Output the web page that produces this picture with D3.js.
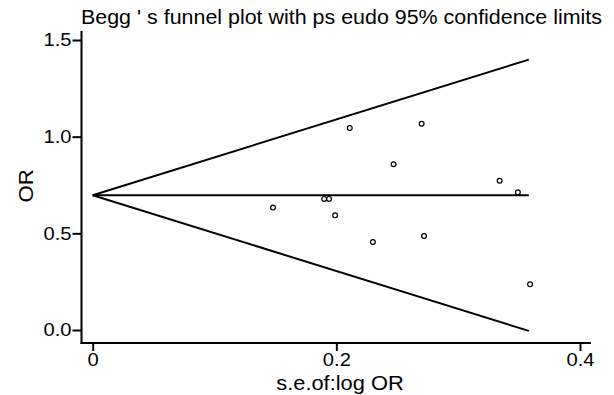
<!DOCTYPE html>
<html>
<head>
<meta charset="utf-8">
<script src="https://cdn.jsdelivr.net/npm/d3@7"></script>
<style>
  body { margin: 0; background: #fff; }
  svg text { font-family: "Liberation Sans", Arial, sans-serif; fill: #000; }
</style>
</head>
<body>
<div id="container"></div>
<script>
// study standard errors (x) and odds ratios (y)
const studySE = [0.148, 0.190, 0.194, 0.199, 0.211, 0.230, 0.247, 0.270, 0.272, 0.334, 0.349, 0.359];
const studyOR = [0.633, 0.678, 0.678, 0.593, 1.045, 0.455, 0.857, 1.067, 0.486, 0.772, 0.712, 0.236];

// pooled estimate and se range of the funnel
const pooledOR = 0.697;
const funnelSE = [0, 0.358];

const xTicks = [0, 0.2, 0.4];
const yTicks = [0.0, 0.5, 1.0, 1.5];
const xTickLabels = ["0", "0.2", "0.4"];
const yTickLabels = ["0.0", "0.5", "1.0", "1.5"];

const title = "Begg ' s funnel plot with ps eudo 95% confidence limits";
const xTitle = "s.e.of:log OR";
const yTitle = "OR";

// the reference text is a bit wider than the font, stretch it sideways
function stretch(sel, k) {
  sel.each(function () {
    let w = this.getComputedTextLength();
    d3.select(this).
    attr("textLength", w * k).
    attr("lengthAdjust", "spacingAndGlyphs");
  });
}

function showChart() {
  const width = 614, height = 395;

  let svg = d3.select("#container").
  append("svg").
  attr("width", width).
  attr("height", height);

  // scales
  let xScale = d3.scaleLinear().domain([0, 0.4]).range([92.7, 580]);
  let yScale = d3.scaleLinear().domain([0, 1.5]).range([330, 40]);

  let axisLeftX = 81.5, axisBottomY = 343;

  // x axis
  let xAxis = d3.axisBottom(xScale).
  tickValues(xTicks).
  tickSize(8).
  tickPadding(2).
  tickFormat((d, i) => xTickLabels[i]);
  let gx = svg.append("g").
  attr("transform", `translate(0,${axisBottomY})`).
  call(xAxis);
  gx.select(".domain").remove();
  gx.append("line").
  attr("x1", axisLeftX - 1).attr("x2", 591).
  attr("stroke", "#000").attr("stroke-width", 2);

  // y axis
  let yAxis = d3.axisLeft(yScale).
  tickValues(yTicks).
  tickSize(9).
  tickPadding(1).
  tickFormat((d, i) => yTickLabels[i]);
  let gy = svg.append("g").
  attr("transform", `translate(${axisLeftX},0)`).
  call(yAxis);
  gy.select(".domain").remove();
  gy.append("line").
  attr("y1", 31).attr("y2", axisBottomY + 1).
  attr("stroke", "#000").attr("stroke-width", 2);

  svg.selectAll(".tick line").attr("stroke", "#000").attr("stroke-width", 2);
  svg.selectAll(".tick text").
  style("font-size", "18px").
  style("font-family", "Liberation Sans, Arial, sans-serif");
  stretch(svg.selectAll(".tick text"), 1.12);

  // funnel lines
  let upper = funnelSE.map(s => [s, pooledOR + 1.96 * s]);
  let lower = funnelSE.map(s => [s, pooledOR - 1.96 * s]);
  let mid = funnelSE.map(s => [s, pooledOR]);
  let line = d3.line().x(d => xScale(d[0])).y(d => yScale(d[1]));

  svg.selectAll("path.funnel").
  data([upper, mid, lower]).
  enter().
  append("path").
  attr("class", "funnel").
  attr("d", line).
  attr("fill", "none").
  attr("stroke", "#000").
  attr("stroke-width", 2);

  // study points
  svg.selectAll("circle.study").
  data(studySE.map((s, i) => ({ se: s, or: studyOR[i] }))).
  enter().
  append("circle").
  attr("class", "study").
  attr("cx", d => xScale(d.se)).
  attr("cy", d => yScale(d.or)).
  attr("r", 2.4).
  attr("fill", "#fff").
  attr("stroke", "#000").
  attr("stroke-width", 1.2);

  // title, fitted to the width in the reference
  svg.append("text").
  attr("x", 81).
  attr("y", 24).
  style("font-size", "20.5px").
  attr("textLength", 521).
  attr("lengthAdjust", "spacingAndGlyphs").
  text(title);

  // axis titles
  let xt = svg.append("text").
  attr("x", 340).
  attr("y", 390).
  attr("text-anchor", "middle").
  style("font-size", "19.5px").
  text(xTitle);
  stretch(xt, 1.12);

  let yt = svg.append("text").
  attr("transform", "translate(33,186) rotate(-90)").
  attr("text-anchor", "middle").
  style("font-size", "20.5px").
  text(yTitle);
  stretch(yt, 1.08);
}

showChart();
</script>
</body>
</html>
